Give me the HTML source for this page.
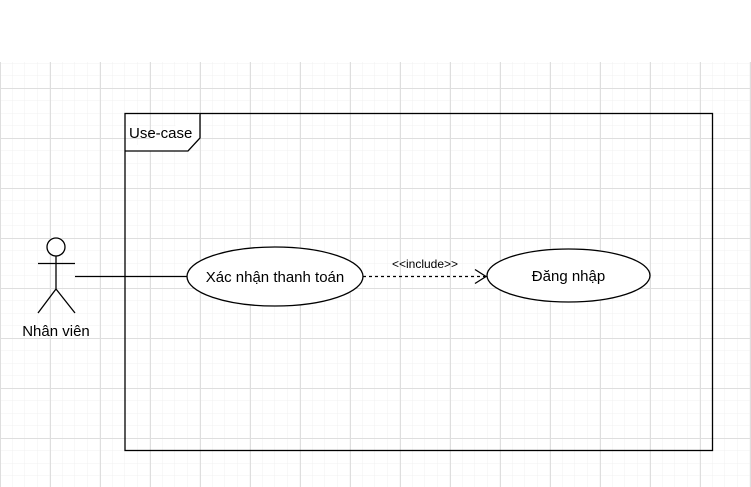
<!DOCTYPE html>
<html><head><meta charset="utf-8"><style>
html,body{margin:0;padding:0;background:#fff;}
svg{display:block;font-family:"Liberation Sans",Arial,sans-serif;}
</style></head><body>
<svg width="751" height="487" viewBox="0 0 751 487" xmlns="http://www.w3.org/2000/svg">
<defs>
<pattern id="minor" x="0" y="38" width="12.5" height="12.5" patternUnits="userSpaceOnUse">
<path d="M12.5 0V12.5M0 12.5H12.5" fill="none" stroke="#f0f0f0" stroke-width="1"/>
</pattern>
<pattern id="major" x="0" y="38" width="50" height="50" patternUnits="userSpaceOnUse">
<rect width="50" height="50" fill="url(#minor)"/>
<path d="M0.5 0V50M0 0.5H50" fill="none" stroke="#dedede" stroke-width="1"/>
</pattern>
</defs>
<rect x="0" y="62" width="751" height="425" fill="url(#major)"/>
<rect x="125" y="113.5" width="587.5" height="337" fill="none" stroke="#000" stroke-width="1.3"/>
<path d="M125 151 H188 L200 138 V113.5" fill="#fff" stroke="#000" stroke-width="1.3"/>
<text x="129" y="138" font-size="15" fill="#000">Use-case</text>
<circle cx="56" cy="247" r="9" fill="#fff" stroke="#000" stroke-width="1.3"/>
<path d="M56 256V289M38 263.5H75M56 289L38 313M56 289L75 313" fill="none" stroke="#000" stroke-width="1.3"/>
<text x="56" y="336" font-size="15" text-anchor="middle">Nhân viên</text>
<path d="M75 276.5H188" stroke="#000" stroke-width="1.3"/>
<ellipse cx="275" cy="276.5" rx="88" ry="29.5" fill="#fff" stroke="#000" stroke-width="1.3"/>
<text x="275" y="282" font-size="15" text-anchor="middle">Xác nhận thanh toán</text>
<ellipse cx="568.5" cy="275.5" rx="81.5" ry="26.5" fill="#fff" stroke="#000" stroke-width="1.3"/>
<text x="568.5" y="281" font-size="15" text-anchor="middle">Đăng nhập</text>
<path d="M363 276.5H485" stroke="#000" stroke-width="1.3" stroke-dasharray="3,3" fill="none"/>
<path d="M475 269.5L486 276.5L475 283.5" stroke="#000" stroke-width="1.3" fill="none"/>
<text x="425" y="268" font-size="12" text-anchor="middle">&lt;&lt;include&gt;&gt;</text>
</svg>
</body></html>
